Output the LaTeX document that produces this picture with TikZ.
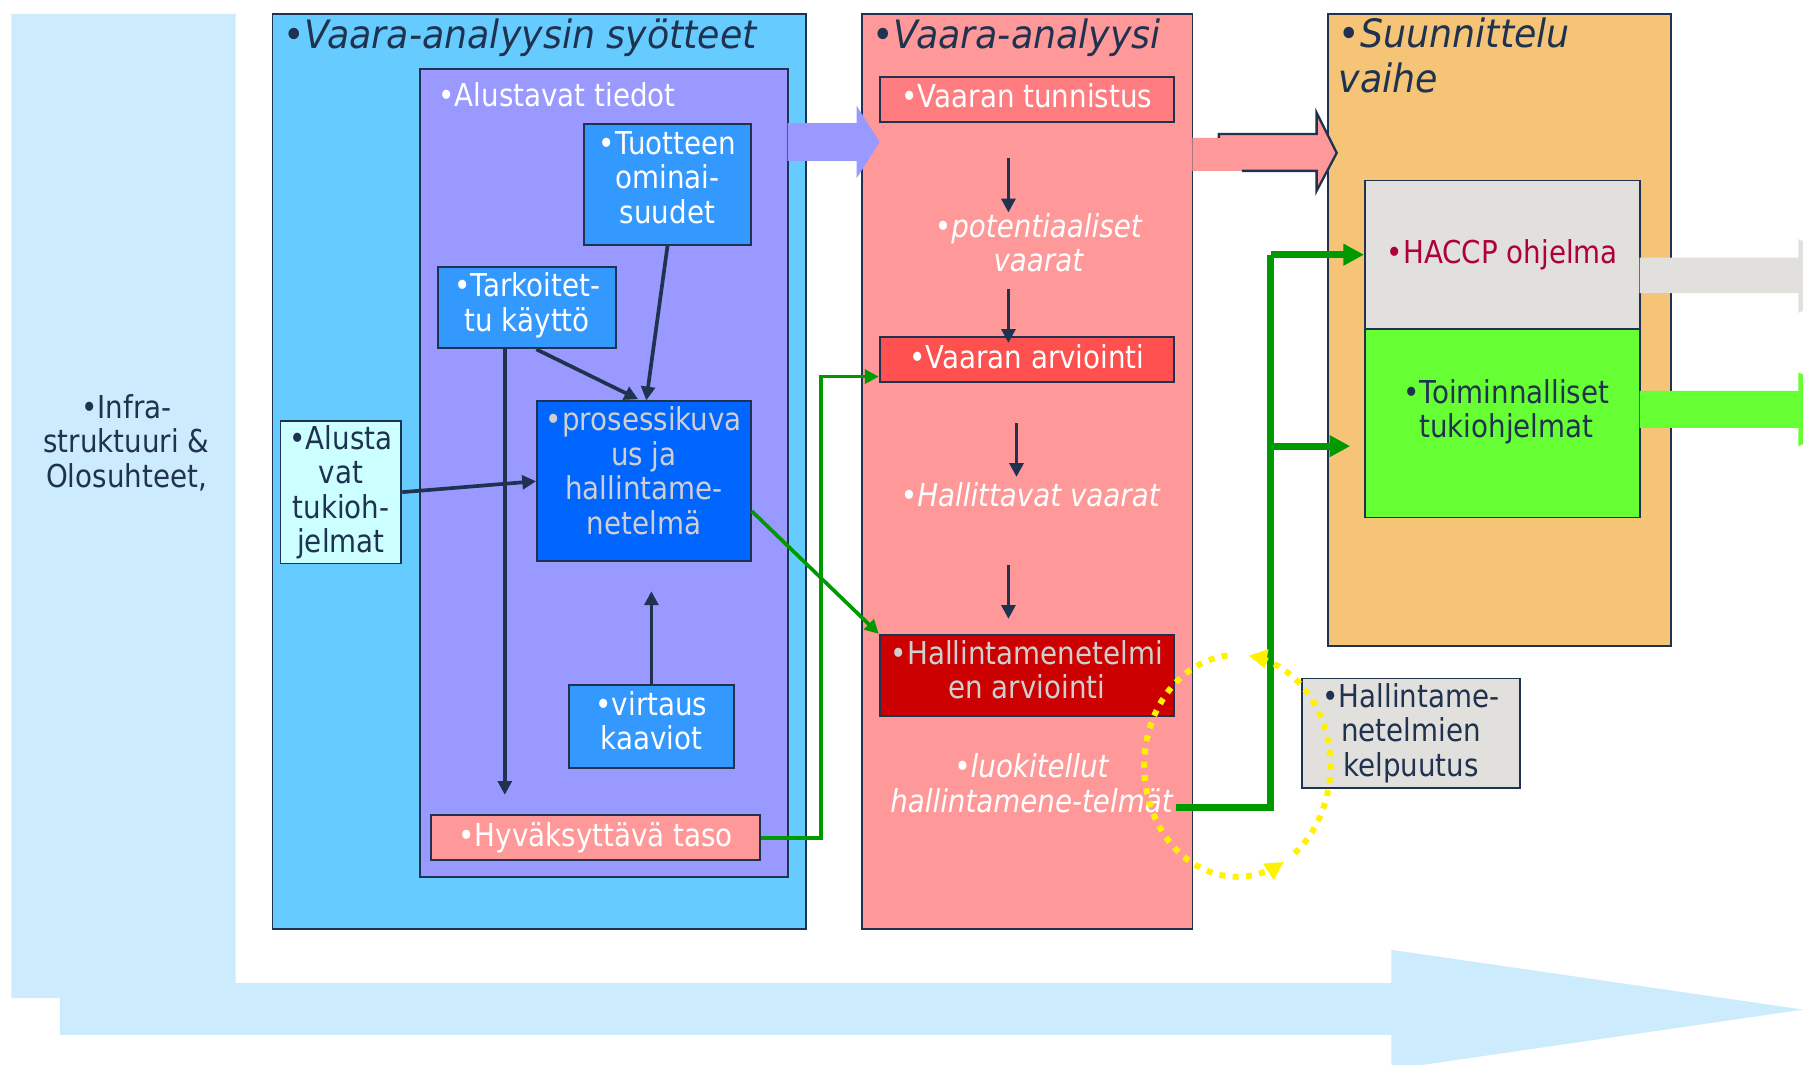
\documentclass[tikz,border=0pt]{standalone}
\usepackage{fontspec}
\setmainfont{DejaVu Sans}[FakeStretch=0.88]
\newfontfamily\ttlfont{DejaVu Sans}[FakeStretch=0.93]
\usetikzlibrary{arrows.meta,calc}
\definecolor{navy}{HTML}{1F3250}
\definecolor{bgblue}{HTML}{CCEBFD}
\definecolor{skyb}{HTML}{66CCFF}
\definecolor{lilac}{HTML}{9999FF}
\definecolor{midb}{HTML}{3399FF}
\definecolor{deepb}{HTML}{0066FF}
\definecolor{paleb}{HTML}{CCFFFF}
\definecolor{salmon}{HTML}{FF9999}
\definecolor{coral}{HTML}{FF7C80}
\definecolor{redl}{HTML}{FF5050}
\definecolor{redd}{HTML}{CC0000}
\definecolor{orng}{HTML}{F5C476}
\definecolor{greyb}{HTML}{E1E0DC}
\definecolor{lime}{HTML}{66FF33}
\definecolor{gline}{HTML}{009900}
\definecolor{crim}{HTML}{B0003A}
\definecolor{ltext}{HTML}{CFCFCF}
\begin{document}
\begin{tikzpicture}[x=0.5pt,y=-0.5pt,
  box/.style={draw=navy, line width=0.8pt, inner sep=0pt, align=center},
  wh/.style 2 args={minimum width={#1*0.5pt}, minimum height={#2*0.5pt}},
  txt/.style={font=\fontsize{13.7}{15}\selectfont, align=center, inner sep=0pt},
  itxt/.style={font=\fontsize{13.7}{15}\selectfont\itshape, align=center, inner sep=0pt, text=white},
  ttl/.style={font=\ttlfont\fontsize{17}{19.5}\selectfont\itshape, text=navy, inner sep=0pt, align=left},
  narrow/.style={-{Triangle[length=6pt,width=6pt]}, line width=1.6pt, draw=navy},
  garrow/.style={-{Triangle[length=6pt,width=6pt]}, line width=1.6pt, draw=gline},
  gthick/.style={-{Triangle[length=9pt,width=9pt]}, line width=3pt, draw=gline},
  yell/.style={draw=yellow, line width=2.6pt, dash pattern=on 2.6pt off 3.2pt, -{Triangle[length=8pt,width=8pt]}}
]
\useasboundingbox (0,0) rectangle (1568,926);
\clip (0,0) rectangle (1568,926);
% background L-shaped arrow
\fill[bgblue] (10,12) -- (205,12) -- (205,855) -- (1210,855) -- (1210,826) -- (1568,878) -- (1210,930) -- (1210,900) -- (52,900) -- (52,868) -- (10,868) -- cycle;
\node[txt, text=navy] (infra) at (110,385) {•Infra-\\struktuuri \&\\Olosuhteet,};

% Box 1
\node[box, fill=skyb, wh={464}{796}] (syo) at (469,410) {};
\node[ttl, anchor=west] (syot) at (246,33) {{\upshape•}Vaara-analyysin syötteet};
\node[box, fill=lilac, wh={320}{703}] (alu) at (525,411.5) {};
\node[txt, text=white, anchor=west] (alut) at (381,82) {•Alustavat tiedot};
\node[box, fill=midb, wh={145}{105}] (tuot) at (580.5,160.5) {};
\node[txt, text=white] (tuott) at ($(tuot)+(0,-6)$) {•Tuotteen\\ominai-\\suudet};
\node[box, fill=midb, wh={155}{71}] (tark) at (458.5,267.5) {};
\node[txt, text=white] (tarkt) at ($(tark)+(0,-2)$) {•Tarkoitet-\\tu käyttö};
\node[box, fill=paleb, wh={105}{124}, txt, text=navy] (alusta) at (296.5,428) {•Alusta\\vat\\tukioh-\\jelmat};
\node[box, fill=deepb, wh={186}{139}] (pros) at (560,418.5) {};
\node[txt, text=ltext] (prost) at ($(pros)+(0,-9)$) {•prosessikuva\\us ja\\hallintame-\\netelmä};
\node[box, fill=midb, wh={143}{72}] (virt) at (566.5,632) {};
\node[txt, text=white] (virtt) at ($(virt)+(0,-5)$) {•virtaus\\kaaviot};
\node[box, fill=salmon, wh={286}{39}, txt, text=white] (hyv) at (518,728.5) {•Hyväksyttävä taso};

% Box 2
\node[box, fill=salmon, wh={287}{796}] (va) at (893.5,410) {};
\node[ttl, anchor=west] (vat) at (758,33) {{\upshape•}Vaara-analyysi};
\node[box, fill=coral, wh={256}{39}] (tunn) at (893,86.5) {};
\node[txt, text=white] (tunnt) at ($(tunn)+(0,-3)$) {•Vaaran tunnistus};
\node[itxt] (pot) at (903,211) {•potentiaaliset\\vaarat};
\node[box, fill=redl, wh={256}{39}] (arv) at (893,312.5) {};
\node[txt, text=white] (arvt) at ($(arv)+(0,-2)$) {•Vaaran arviointi};
\node[itxt] (hallv) at (896,430) {•Hallittavat vaarat};
\node[box, fill=redd, wh={256}{71}] (hme) at (893,587.5) {};
\node[txt, text=ltext] (hmet) at ($(hme)+(0,-5)$) {•Hallintamenetelmi\\en arviointi};
\node[itxt] (luok) at (897,681) {•luokitellut\\hallintamene-telmät};

% Box 3
\node[box, fill=orng, wh={298}{550}] (suu) at (1304,287) {};
\node[ttl, anchor=north west] (suut) at (1164,15) {{\upshape•}Suunnittelu\\vaihe};
\node[box, fill=greyb, wh={239}{129}, txt, text=crim] (haccp) at (1306.5,221.5) {•HACCP ohjelma};
\node[box, fill=lime, wh={239}{164}] (toim) at (1306.5,368) {};
\node[txt, text=navy] (toimt) at (1310,358) {•Toiminnalliset\\tukiohjelmat};
\node[box, fill=greyb, wh={190}{95}, txt, text=navy] (kelp) at (1227,637.5) {•Hallintame-\\netelmien\\kelpuutus};

% block arrows
\fill[lilac] (685,107) -- (745,107) -- (745,92) -- (765,123.5) -- (745,155) -- (745,140) -- (685,140) -- cycle;
\fill[salmon] (1037,120) -- (1060,120) -- (1060,116.5) -- (1145,116.5) -- (1145,98) -- (1162.5,133) -- (1145,166) -- (1145,148.6) -- (1037,148.6) -- cycle;
\draw[navy, line width=1pt, line join=miter] (1060,120) -- (1060,116.5) -- (1145,116.5) -- (1145,98) -- (1162.5,133) -- (1145,166) -- (1145,148.6) -- (1080,148.6);
\fill[greyb] (1426,224) -- (1564,224) -- (1564,208) -- (1640,240) -- (1564,272) -- (1564,255) -- (1426,255) -- cycle;
\fill[lime] (1426,340) -- (1564,340) -- (1564,324) -- (1640,356) -- (1564,388) -- (1564,372) -- (1426,372) -- cycle;

% navy arrows
\draw[narrow] (tuot.south) -- ($(pros.north)+(2,0)$);
\draw[narrow] ($(tark.south)+(8,0)$) -- ($(pros.north)+(-5,-1)$);
\draw[narrow] ($(tark.south)+(-19.5,0)$) -- ($(hyv.north)+(-79,-17)$);
\draw[narrow] (alusta.east) -- (pros.west);
\draw[narrow] (virt.north) -- ($(virt.north)+(0,-81)$);
\draw[narrow] ($(tunn.south)+(-16,31)$) -- ++(0,47);
\draw[narrow] ($(arv.north)+(-16,-41)$) -- ($(arv.north)+(-16,6)$);
\draw[narrow] ($(arv.south)+(-9,35)$) -- ++(0,47);
\draw[narrow] ($(hme.north)+(-16,-60)$) -- ++(0,47);

% green connectors
\draw[garrow] ($(pros.east)+(0,26)$) -- (hme.north west);
\draw[garrow] (hyv.east) -- ++(52,0) |- ($(arv.west)+(0,15)$);
\coordinate (lk) at (1023,702);
\coordinate (jn) at (1105,221.5);
\coordinate (jn2) at (1105,388);
\draw[gthick, arrows={-}] (lk) -| (jn);
\draw[gthick] (jn) -- (haccp.west);
\draw[gthick] (jn2) -- ($(toim.west)+(-12,20)$);

% yellow dotted cycle
\draw[yell] plot[domain=96:300, samples=70] ({1076+81*cos(\x)}, {666-96.5*sin(\x)});
\draw[yell] plot[domain=-52:83, samples=50] ({1076+81*cos(\x)}, {666-96.5*sin(\x)});
\end{tikzpicture}
\end{document}
